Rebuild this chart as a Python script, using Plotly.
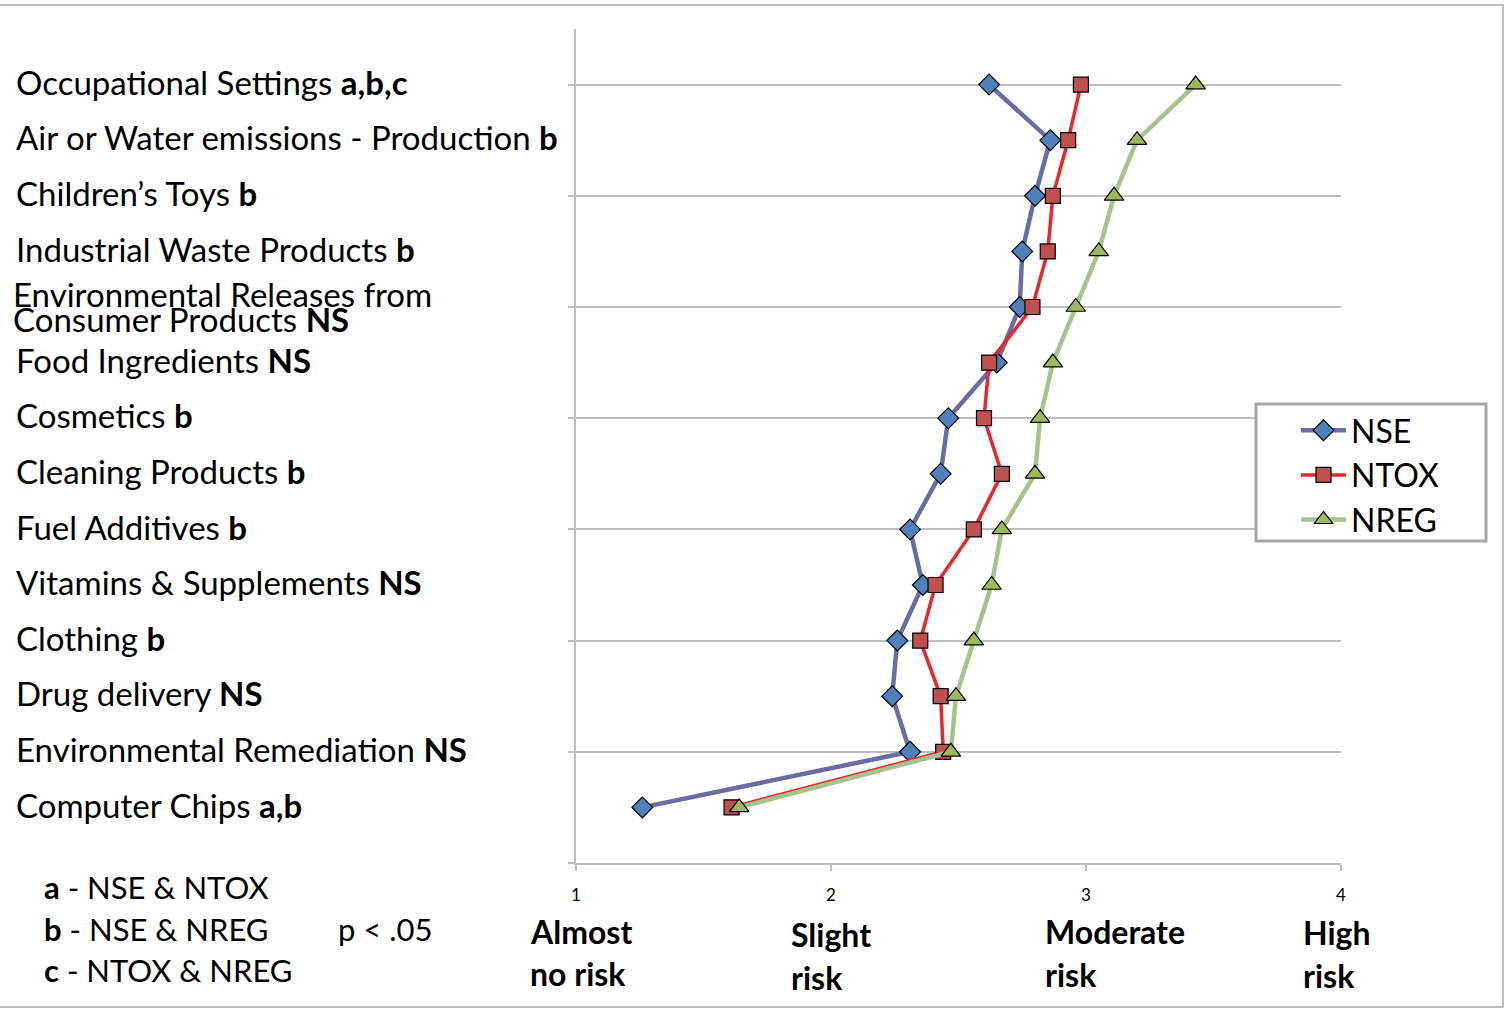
import plotly.graph_objects as go

categories = [
    "Occupational Settings", "Air or Water emissions - Production", "Children\u2019s Toys",
    "Industrial Waste Products", "Environmental Releases from Consumer Products",
    "Food Ingredients", "Cosmetics", "Cleaning Products", "Fuel Additives",
    "Vitamins & Supplements", "Clothing", "Drug delivery",
    "Environmental Remediation", "Computer Chips",
]
sig = ["a,b,c", "b", "b", "b", "NS", "NS", "b", "b", "b", "NS", "b", "NS", "NS", "a,b"]

nse = [2.62, 2.86, 2.80, 2.75, 2.74, 2.65, 2.46, 2.43, 2.31, 2.36, 2.26, 2.24, 2.31, 1.26]
ntox = [2.98, 2.93, 2.87, 2.85, 2.79, 2.62, 2.60, 2.67, 2.56, 2.41, 2.35, 2.43, 2.44, 1.61]
nreg = [3.43, 3.20, 3.11, 3.05, 2.96, 2.87, 2.82, 2.80, 2.67, 2.63, 2.56, 2.49, 2.47, 1.64]

x_ticks = [1, 2, 3, 4]
risk_line1 = ["Almost", "Slight", "Moderate", "High"]
risk_line2 = ["no risk", "risk", "risk", "risk"]
notes = [("a", "NSE & NTOX"), ("b", "NSE & NREG"), ("c", "NTOX & NREG")]

ypos = [len(categories) - i for i in range(len(categories))]  # 14..1

FONT = "Lato"
W, H = 1506, 1010
L, R, T, B = 576, 165, 29, 147
PW, PH = W - L - R, H - T - B

def px_x(px):
    return (px - L) / PW

def px_y(py):
    return (H - B - py) / PH

fig = go.Figure()
fig.add_trace(go.Scatter(
    x=nse, y=ypos, name="NSE", mode="lines+markers",
    line=dict(color="#6B6BA8", width=4.5),
    marker=dict(symbol="diamond", size=16, color="#4F81BD", line=dict(color="#000", width=1.2)),
))
fig.add_trace(go.Scatter(
    x=ntox, y=ypos, name="NTOX", mode="lines+markers",
    line=dict(color="#E8262B", width=3.5),
    marker=dict(symbol="square", size=15, color="#C0504D", line=dict(color="#000", width=1.2)),
))
fig.add_trace(go.Scatter(
    x=nreg, y=ypos, name="NREG", mode="lines+markers",
    line=dict(color="#A5C48D", width=4.5),
    marker=dict(symbol="triangle-up", size=17, color="#9BBB59", line=dict(color="#000", width=1.2)),
))

ann = []
label_fs = 33
for i, (c, s) in enumerate(zip(categories, sig)):
    if c.startswith("Environmental Releases"):
        ann.append(dict(x=px_x(11), xref="paper", y=px_y(294), yref="paper", text="Environmental Releases from",
                        xanchor="left", yanchor="middle", showarrow=False, font=dict(size=label_fs)))
        ann.append(dict(x=px_x(11), xref="paper", y=px_y(319), yref="paper", text="Consumer Products <b>NS</b>",
                        xanchor="left", yanchor="middle", showarrow=False, font=dict(size=label_fs)))
    else:
        ann.append(dict(x=px_x(14), xref="paper", y=ypos[i] + 0.05, yref="y", text=f"{c} <b>{s}</b>",
                        xanchor="left", yanchor="middle", showarrow=False, font=dict(size=label_fs)))

note_fs = 31
for j, (k, t) in enumerate(notes):
    ann.append(dict(x=px_x(42), xref="paper", y=px_y(887 + j * 41.5), yref="paper",
                    text=f"<b>{k}</b> - {t}", xanchor="left", yanchor="middle", showarrow=False,
                    font=dict(size=note_fs)))
ann.append(dict(x=px_x(336), xref="paper", y=px_y(929), yref="paper", text="p < .05",
                xanchor="left", yanchor="middle", showarrow=False, font=dict(size=note_fs)))

risk_x = [528, 789, 1043, 1301]
risk_y1 = [931, 935, 932, 933]
for xv, px, py, a, b in zip(x_ticks, risk_x, risk_y1, risk_line1, risk_line2):
    ann.append(dict(x=px_x(px), xref="paper", y=px_y(py), yref="paper", text=f"<b>{a}</b>",
                    xanchor="left", yanchor="middle", showarrow=False, font=dict(size=32)))
    ann.append(dict(x=px_x(px), xref="paper", y=px_y(py + 42), yref="paper", text=f"<b>{b}</b>",
                    xanchor="left", yanchor="middle", showarrow=False, font=dict(size=32)))

fig.update_layout(
    width=W, height=H,
    margin=dict(l=L, r=R, t=T, b=B, pad=0),
    paper_bgcolor="white", plot_bgcolor="white",
    font=dict(family=FONT, color="#000000", size=28),
    annotations=ann,
    showlegend=True,
    legend=dict(
        x=px_x(1296), y=px_y(403), xanchor="left", yanchor="top",
        bgcolor="rgba(0,0,0,0)", borderwidth=0,
        font=dict(size=32, family=FONT), itemwidth=45,
    ),
    shapes=[
        dict(type="rect", xref="paper", yref="paper",
             x0=px_x(-3), x1=px_x(1503), y0=px_y(1007), y1=px_y(5),
             line=dict(color="#BFBFBF", width=2), layer="below"),
        dict(type="rect", xref="paper", yref="paper",
             x0=px_x(1256), x1=px_x(1486), y0=px_y(541), y1=px_y(404),
             line=dict(color="#A6A6A6", width=3), fillcolor="white", layer="above"),
    ],
)
fig.update_xaxes(
    range=[1, 4], tickvals=x_ticks, ticktext=[str(v) for v in x_ticks],
    showgrid=False, zeroline=False, showline=True, linecolor="#BFBFBF", linewidth=2,
    ticks="outside", ticklen=6, tickcolor="#BFBFBF", tickwidth=2,
    tickfont=dict(size=17, family=FONT), ticklabelstandoff=10,
)
fig.update_yaxes(
    range=[0, 15], tickvals=list(range(0, 16, 2)), showticklabels=False,
    showgrid=True, gridcolor="#BFBFBF", gridwidth=2, zeroline=False,
    showline=True, linecolor="#BFBFBF", linewidth=2,
    ticks="outside", ticklen=6, tickcolor="#BFBFBF", tickwidth=2,
)

fig.write_html("out.html", config={"displayModeBar": False},
               post_script="document.body.style.margin='0';document.body.style.overflow='hidden';")
